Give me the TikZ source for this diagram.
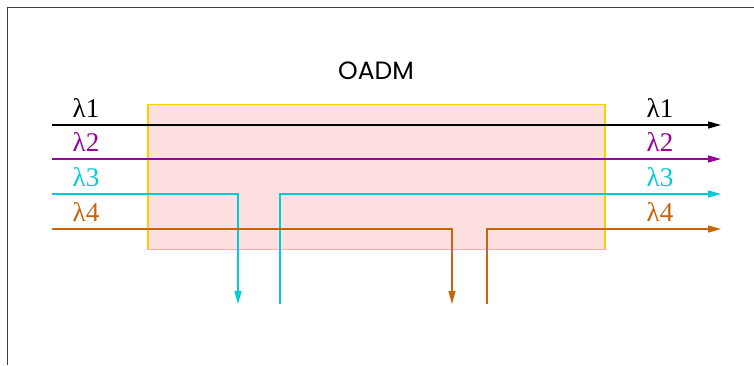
\documentclass[tikz,border=0pt]{standalone}
\usepackage{fontspec}
\setmainfont{Liberation Serif}
\newfontfamily\titlefont{Poppins}
\usepackage{xcolor}
\usetikzlibrary{arrows.meta,positioning}
\definecolor{wlA}{HTML}{000000}
\definecolor{wlB}{HTML}{990099}
\definecolor{wlC}{HTML}{00CCD4}
\definecolor{wlD}{HTML}{C8640A}
\definecolor{boxfill}{HTML}{FFE0E0}
\definecolor{boxline}{HTML}{FFCC00}

\begin{document}
\begin{tikzpicture}[x=1pt,y=-1pt,
  wl/.style={font=\fontsize{27}{29}\selectfont, inner sep=0pt},
  fiber/.style={line width=1.3pt},
  tip/.style={-{Triangle[length=13pt,width=7pt]}}
]
\useasboundingbox (0,0) rectangle (754,365);
\draw[line width=1pt, black!75] (7,365) -- (7,7) -- (754,7);
\node[draw=boxline, fill=boxfill, line width=1.2pt, minimum width=457pt, minimum height=145pt] (oadm) at (376.5,177) {};
\node[font=\titlefont\fontsize{25}{27}\selectfont, inner sep=0pt] (title) at (376,71) {OADM};
\foreach \i/\y/\c in {1/125/wlA,2/159/wlB,3/194/wlC,4/229/wlD}{
  \coordinate (in\i) at (52,\y);
  \coordinate (out\i) at (721,\y);
  \node[wl, text=\c] (lin\i) at (86,\y-17) {λ\i};
  \node[wl, text=\c] (lout\i) at (660,\y-17) {λ\i};
}
\coordinate (drop3) at (238,304);
\coordinate (add3) at (280,304);
\coordinate (drop4) at (452,304);
\coordinate (add4) at (487,304);
\draw[fiber, tip, wlA] (in1) -- (out1);
\draw[fiber, tip, wlB] (in2) -- (out2);
\draw[fiber, tip, wlC] (in3) -| (drop3);
\draw[fiber, tip, wlC] (add3) |- (out3);
\draw[fiber, tip, wlD] (in4) -| (drop4);
\draw[fiber, tip, wlD] (add4) |- (out4);
\end{tikzpicture}
\end{document}
